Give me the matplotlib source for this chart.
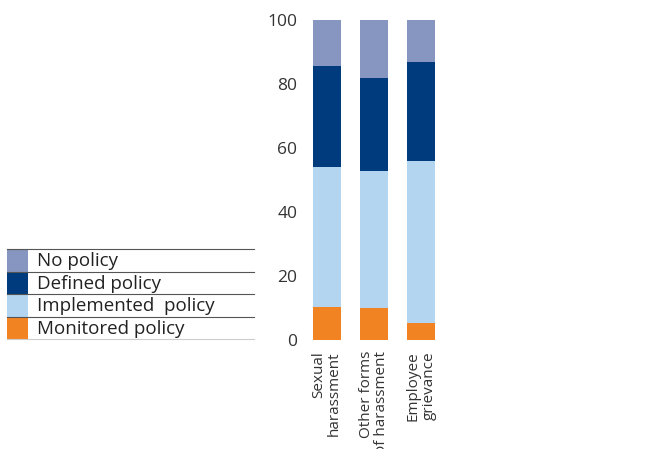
import matplotlib
matplotlib.use('Agg')

import numpy as np
import matplotlib.pyplot as plt
from matplotlib.patches import Rectangle
from matplotlib.lines import Line2D

font = {'family': 'Open Sans',
        'size': 11}
matplotlib.rc('font', **font)

categories = ['Sexual\nharassment', 'Other forms\nof harassment', 'Employee\ngrievance']
monitored = [10.4, 10.1, 5.2]
implemented = [43.8, 42.7, 50.7]
defined = [31.5, 29.2, 31.0]
no_policy = [14.3, 18.0, 13.1]

series_names = ['No policy', 'Defined policy', 'Implemented  policy', 'Monitored policy']
colors = {'No policy': '#8796c0',
          'Defined policy': '#003c7d',
          'Implemented  policy': '#b4d5ef',
          'Monitored policy': '#f28322'}

fig = plt.figure(figsize=(6.67, 4.49), dpi=100)
ax = fig.add_axes([300/667, 1 - 340/449, 148/667, 320/449])

x = np.arange(len(categories))
width = 0.58
bottom = np.zeros(len(categories))
for name, vals in [('Monitored policy', monitored),
                   ('Implemented  policy', implemented),
                   ('Defined policy', defined),
                   ('No policy', no_policy)]:
    ax.bar(x, vals, width, bottom=bottom, color=colors[name], linewidth=0)
    bottom += np.array(vals)

ax.set_xlim(-0.57, 2.57)
ax.set_ylim(0, 100)
ax.set_yticks([0, 20, 40, 60, 80, 100])
ax.set_xticks(x)
ax.set_xticklabels(categories, rotation=90, ha='center', va='top',
                   multialignment='right', fontsize=11, color='#333333',
                   linespacing=1.05)
ax.tick_params(axis='y', length=0, labelsize=12.5, colors='#333333', pad=2)
ax.tick_params(axis='x', length=0, pad=8, colors='#333333')
for s in ax.spines.values():
    s.set_visible(False)

# table style legend on the left
W, H = 667.0, 449.0
row_tops = [249, 271.5, 294, 316.5]
row_h = 22.5
for i, name in enumerate(series_names):
    top = row_tops[i]
    fig.patches.append(Rectangle((7/W, 1 - (top + row_h)/H), 21/W, row_h/H,
                                 transform=fig.transFigure, color=colors[name],
                                 linewidth=0))
    fig.lines.append(Line2D([7/W, 254/W], [1 - top/H, 1 - top/H],
                            transform=fig.transFigure, color='#555555', lw=0.8))
    fig.text(37/W, 1 - (top + row_h/2 + 1)/H, name, fontsize=13.5,
             color='#222222', va='center', ha='left')
fig.lines.append(Line2D([7/W, 254/W], [1 - 339/H, 1 - 339/H],
                        transform=fig.transFigure, color='#cccccc', lw=0.8))

fig.savefig('out.png', dpi=100)
